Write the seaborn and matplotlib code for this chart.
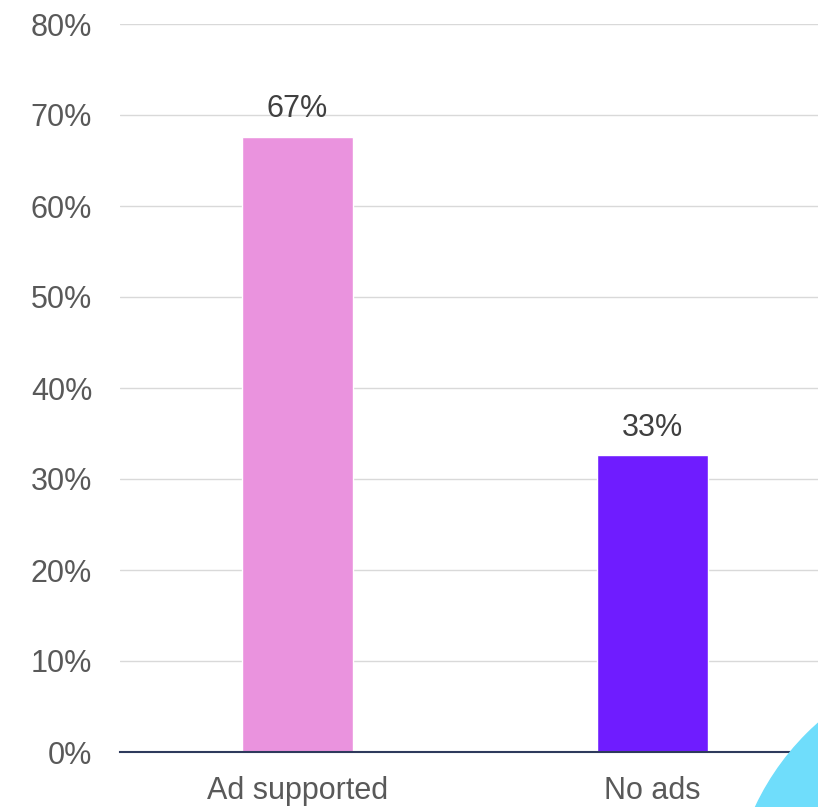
import matplotlib
matplotlib.use("Agg")
import matplotlib.pyplot as plt
from matplotlib.patches import Ellipse
import seaborn as sns
import pandas as pd

categories = ["Ad supported", "No ads"]
values = [67.6, 32.6]
labels = ["67%", "33%"]
colors = ["#EA93DE", "#6F1CFF"]
yticks = [0, 10, 20, 30, 40, 50, 60, 70, 80]

sns.set_theme(style="white")
plt.rcParams['font.family'] = ['Liberation Sans', 'DejaVu Sans']

fig = plt.figure(figsize=(8.18, 8.07), dpi=100)
W, H = 818, 807
ax = fig.add_axes([120 / W, (H - 752) / H, 1 - 120 / W, (752 - 24) / H])

df = pd.DataFrame({"cat": categories, "val": values})
sns.barplot(data=df, x="cat", y="val", hue="cat", palette=colors, width=0.313,
            legend=False, ax=ax, saturation=1)

for i, (v, t) in enumerate(zip(values, labels)):
    ax.annotate(t, (i, v), xytext=(0, 9), textcoords="offset points",
                ha="center", va="bottom", fontsize=22, color="#404040")

ax.set_ylim(0, 80)
ax.set_xlim(-0.5, 1.468)
ax.set_yticks(yticks)
ax.set_yticklabels([f"{t}%" for t in yticks])
ax.yaxis.grid(True, color="#D9D9D9", linewidth=1)
ax.set_axisbelow(True)
for s in ["top", "right", "left"]:
    ax.spines[s].set_visible(False)
ax.spines["bottom"].set_color("#2E3A5C")
ax.spines["bottom"].set_linewidth(1.5)
ax.tick_params(axis="y", length=0, pad=20, labelsize=22, labelcolor="#595959")
ax.tick_params(axis="x", length=0, pad=17, labelsize=22, labelcolor="#595959")
ax.set_xlabel("")
ax.set_ylabel("")

circ = Ellipse((990 / W, (H - 917) / H), 518 / W, 518 / H, transform=fig.transFigure,
               color="#6FDDFB", zorder=10, clip_on=False)
fig.patches.append(circ)

fig.savefig("out.png", dpi=100)
